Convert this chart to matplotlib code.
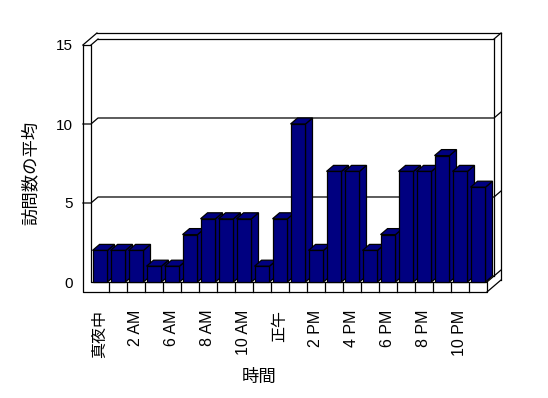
import numpy as np
import matplotlib
matplotlib.use("Agg")
import matplotlib.pyplot as plt
from matplotlib.patches import Polygon

plt.rcParams['font.family'] = ['Liberation Sans', 'Noto Sans CJK JP']

# hours present in the data (4 AM and 5 AM have no visits)
hours = [0, 1, 2, 3, 6, 7, 8, 9, 10, 11, 12, 13, 14, 15, 16, 17, 18, 19, 20, 21, 22, 23]
avg_visits = [2, 2, 2, 1, 1, 3, 4, 4, 4, 1, 4, 10, 2, 7, 7, 2, 3, 7, 7, 8, 7, 6]
tick_labels = ['真夜中', '2 AM', '6 AM', '8 AM', '10 AM', '正午',
               '2 PM', '4 PM', '6 PM', '8 PM', '10 PM']
y_ticks = [0, 5, 10, 15]

BAR_COLOR = "#000080"
EDGE = "black"
LW = 0.9

# fake 3D geometry, in data units
DX, DY = 0.39, 0.38      # depth offset of one "slice"
WALL_W = 0.45            # left wall thickness
FLOOR_H = 0.63           # floor thickness
BAR_W = 0.83

fig = plt.figure(figsize=(5.48, 3.98), dpi=100)
ax = fig.add_axes([91 / 548, 116 / 398, 396 / 548, 237 / 398])
n = len(hours)
x = np.arange(n)
ax.set_xlim(-0.5, n - 0.5)
ax.set_ylim(0, 15)
for s in ax.spines.values():
    s.set_visible(False)
ax.set_facecolor("none")


def line(xs, ys, z=1):
    ax.plot(xs, ys, color=EDGE, lw=LW, clip_on=False, zorder=z,
            solid_capstyle="projecting")


x0, x1 = -0.5, n - 0.5
top = y_ticks[-1]
xl = x0 - WALL_W
yb = -FLOOR_H

# front outline: left wall face + floor face
line([xl, x0, x0, x1, x1, xl, xl], [top, top, 0, 0, yb, yb, top])
# left wall depth
line([xl, xl + 2 * DX], [top, top + 2 * DY])
line([x0, x0 + DX], [top, top + DY])
# back wall top (inner and outer)
line([x0 + DX, x1 + DX], [top + DY, top + DY])
line([xl + 2 * DX, x1 + 2 * DX], [top + 2 * DY, top + 2 * DY])
# right end of back wall
line([x1 + DX, x1 + 2 * DX], [top + DY, top + 2 * DY])
line([x1 + DX, x1 + DX], [DY, top + DY])
line([x1 + 2 * DX, x1 + 2 * DX], [yb + 2 * DY, top + 2 * DY])
# floor right end
line([x1, x1 + DX], [0, DY])
line([x1, x1 + 2 * DX], [yb, yb + 2 * DY])
line([x1 + DX, x1 + 2 * DX], [DY, 2 * DY])
# floor front tick separators
for k in range(1, n):
    line([k - 0.5, k - 0.5], [0, yb])
# gridlines
for v in y_ticks[1:-1]:
    line([xl, x0, x0 + DX, x1 + DX, x1 + 2 * DX], [v, v, v + DY, v + DY, v + 2 * DY])

# bars: side, top, then front, left to right so later bars overlap
for i, v in enumerate(avg_visits):
    b0 = x[i] - BAR_W / 2
    b1 = x[i] + BAR_W / 2
    z = 3 + i
    side = Polygon([(b1, 0), (b1 + DX, DY), (b1 + DX, v + DY), (b1, v)],
                   closed=True, facecolor=BAR_COLOR, edgecolor=EDGE, lw=LW,
                   zorder=z, clip_on=False)
    topf = Polygon([(b0, v), (b1, v), (b1 + DX, v + DY), (b0 + DX, v + DY)],
                   closed=True, facecolor=BAR_COLOR, edgecolor=EDGE, lw=LW,
                   zorder=z, clip_on=False)
    ax.add_patch(side)
    ax.add_patch(topf)
    ax.bar(x[i], v, width=BAR_W, color=BAR_COLOR, edgecolor=EDGE, lw=LW,
           zorder=z + 0.5, clip_on=False)

ax.set_yticks(y_ticks)
ax.set_yticklabels([str(t) for t in y_ticks], fontsize=11)
ax.set_xticks(x[::2])
ax.set_xticklabels(tick_labels, rotation=90, fontsize=11.5)
ax.tick_params(axis="y", length=0, pad=13)
ax.tick_params(axis="x", length=0, pad=20)

fig.text(259 / 548, 1 - 377 / 398, "時間", ha="center", va="center", fontsize=12.5)
fig.text(30 / 548, 1 - 173 / 398, "訪問数の平均", ha="center", va="center",
         rotation=90, fontsize=12.5)

fig.savefig("out.png", dpi=100)
